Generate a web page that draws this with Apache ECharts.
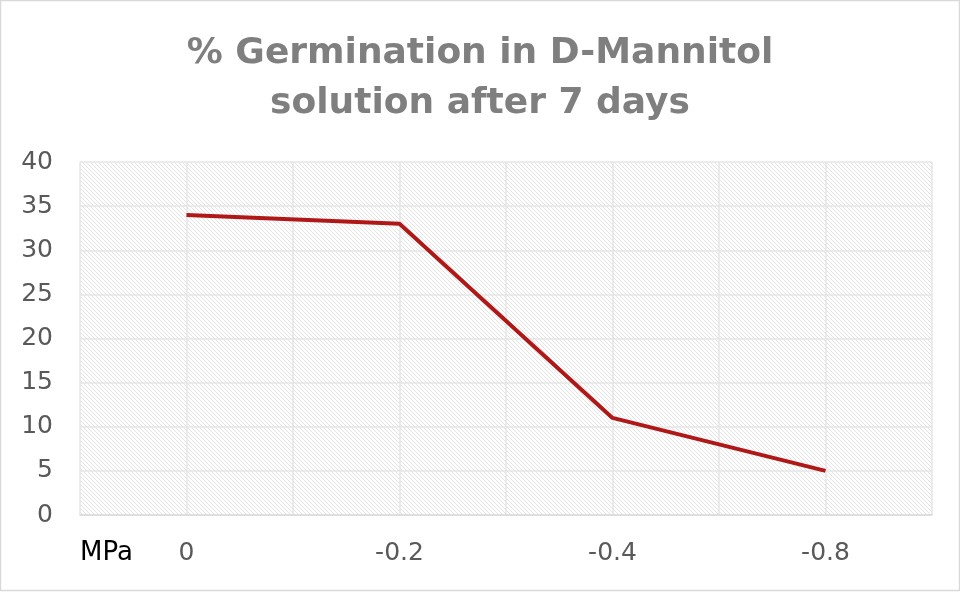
<!DOCTYPE html>
<html>
<head>
<meta charset="utf-8">
<script src="https://cdn.jsdelivr.net/npm/echarts@6/dist/echarts.min.js"></script>
<style>
  html, body { margin: 0; padding: 0; background: #fff; }
  #chart { width: 960px; height: 592px; }
</style>
</head>
<body>
<div id="chart"></div>
<script>
const categories = ["0", "-0.2", "-0.4", "-0.8"];
const germination = [34, 33, 11, 5];
const yTicks = { min: 0, max: 40, interval: 5 };
// half-category gridlines, like the original chart
const minorSlots = ["", "", "", "", "", "", "", ""];

// diagonal hatch fill for the plot area
const hatch = document.createElement("canvas");
hatch.width = 4;
hatch.height = 4;
const hctx = hatch.getContext("2d");
hctx.fillStyle = "#fff";
hctx.fillRect(0, 0, 4, 4);
hctx.fillStyle = "#e3e3e3";
for (let i = 0; i < 4; i++) hctx.fillRect(i, i, 1, 1);

const mChart = echarts.init(document.getElementById("chart"));

const font = "DejaVu Sans";

const options = {
  backgroundColor: "#fff",
  animation: false,
  title: {
    text: "% Germination in D-Mannitol\nsolution after 7 days",
    left: "center",
    top: 24,
    textStyle: {
      fontFamily: font,
      fontSize: 36,
      fontWeight: "bold",
      color: "#7f7f7f",
      lineHeight: 50,
    },
  },
  grid: {
    left: 80,
    right: 28,
    top: 162,
    bottom: 77,
    show: true,
    borderWidth: 0,
    backgroundColor: { image: hatch, repeat: "repeat" },
  },
  xAxis: [
    {
      type: "category",
      data: categories,
      boundaryGap: true,
      axisLine: { lineStyle: { color: "#d9d9d9", width: 1.5 } },
      axisTick: { show: false },
      splitLine: { show: false },
      axisLabel: {
        fontFamily: font,
        fontSize: 25,
        color: "#595959",
        margin: 26,
      },
    },
    {
      type: "category",
      data: minorSlots,
      boundaryGap: true,
      position: "bottom",
      axisLine: { show: false },
      axisTick: { show: false },
      axisLabel: { show: false },
      splitLine: { show: true, lineStyle: { color: "#e6e6e6", width: 1.5 } },
    },
  ],
  yAxis: {
    type: "value",
    min: yTicks.min,
    max: yTicks.max,
    interval: yTicks.interval,
    axisLine: { show: false },
    axisTick: { show: false },
    splitLine: { lineStyle: { color: "#e6e6e6", width: 1.5 } },
    axisLabel: {
      fontFamily: font,
      fontSize: 25,
      color: "#595959",
      margin: 27,
    },
  },
  graphic: [
    {
      type: "text",
      left: 80,
      top: 540,
      style: {
        text: "MPa",
        fontFamily: font,
        fontSize: 26,
        fill: "#000",
      },
    },
    {
      type: "rect",
      shape: { x: 0.5, y: 0.5, width: 959, height: 590 },
      style: { fill: "none", stroke: "#d9d9d9", lineWidth: 1.5 },
      z: 100,
    },
  ],
  series: [
    {
      type: "line",
      xAxisIndex: 0,
      data: germination,
      symbol: "none",
      lineStyle: { color: "#b01818", width: 4 },
    },
  ],
};
mChart.setOption(options);
</script>
</body>
</html>
